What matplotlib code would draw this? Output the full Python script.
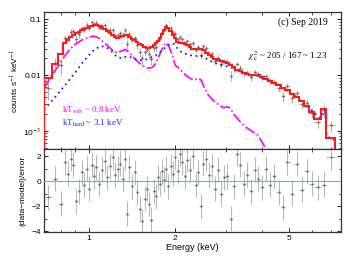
import numpy as np
import matplotlib
matplotlib.use('Agg')
import matplotlib.pyplot as plt
from matplotlib.ticker import FixedLocator, NullFormatter

# spectral bins (keV)
edges = [0.700, 0.745, 0.785, 0.815, 0.835, 0.855, 0.875, 0.895, 0.915, 0.935,
         0.955, 0.975, 0.995, 1.015, 1.035, 1.055, 1.075, 1.100, 1.125, 1.150,
         1.175, 1.200, 1.225, 1.250, 1.275, 1.300, 1.325, 1.350, 1.375, 1.400,
         1.430, 1.460, 1.490, 1.520, 1.550, 1.580, 1.610, 1.640, 1.670, 1.700,
         1.730, 1.760, 1.790, 1.820, 1.850, 1.880, 1.910, 1.945, 1.980, 2.020,
         2.060, 2.100, 2.140, 2.180, 2.230, 2.280, 2.330, 2.380, 2.430, 2.480,
         2.540, 2.600, 2.660, 2.720, 2.790, 2.860, 2.930, 3.000, 3.080, 3.160,
         3.240, 3.330, 3.420, 3.520, 3.620, 3.730, 3.840, 3.960, 4.080, 4.210,
         4.350, 4.500, 4.660, 4.830, 5.010, 5.200, 5.400, 5.620, 5.850, 6.100,
         6.450, 6.710, 7.200]

# total model per bin (counts/s/keV)
model = [0.0088, 0.0160, 0.0235, 0.037, 0.043, 0.048, 0.053, 0.057, 0.060, 0.064,
         0.067, 0.071, 0.074, 0.077, 0.079, 0.078, 0.075, 0.070, 0.066, 0.061,
         0.057, 0.052, 0.048, 0.046, 0.048, 0.051, 0.053, 0.052, 0.049, 0.045,
         0.042, 0.039, 0.036, 0.034, 0.032, 0.031, 0.031, 0.032, 0.034, 0.037,
         0.041, 0.047, 0.055, 0.065, 0.073, 0.070, 0.062, 0.053, 0.046, 0.040,
         0.038, 0.037, 0.036, 0.034, 0.032, 0.030, 0.029, 0.029, 0.030, 0.028,
         0.025, 0.023, 0.021, 0.0196, 0.0186, 0.0177, 0.0170, 0.0165, 0.0153, 0.0138,
         0.0126, 0.0117, 0.0110, 0.0105, 0.0102, 0.0101, 0.0102, 0.0094, 0.0086, 0.0080,
         0.0072, 0.0066, 0.0059, 0.0053, 0.0046, 0.0040, 0.0034, 0.0028, 0.0022, 0.0016,
         0.0025, 0.00075]

# (data-model)/error per bin
resid = [-1.3, 0.2, -1.8, 1.5, 0.6, 1.8, 1.3, -1.6, -0.8, 0.7,
         -0.3, 1.0, -0.6, 1.3, 0.4, 1.1, -0.2, 0.9, 1.6, 0.3,
         1.2, 1.9, 0.5, 1.0, 1.4, 0.2, 1.8, -2.6, 1.1, -0.4,
         0.7, -0.9, -2.2, -3.2, -1.4, -0.6, -1.8, -3.1, -0.8, -1.2,
         0.3, -0.2, 0.8, 0.1, 1.0, -0.4, 1.2, 0.6, 1.9, 0.8,
         2.2, 1.5, 0.4, 1.7, 0.9, 2.0, -0.3, 0.7, -2.0, 1.4,
         1.8, 0.5, 1.2, -0.6, 0.9, -1.0, 0.3, 0.4, -3.0, -0.4,
         2.2, 1.3, -0.2, 0.5, -0.8, 0.9, 0.2, -0.5, 1.0, -0.3,
         0.4, -0.9, -2.1, 1.5, -1.0, 1.4, -0.7, 0.8, -0.2, -0.5,
         -0.3, 1.9]

# fractional error of each data bin
rel_err = [0.26, 0.22, 0.20, 0.16, 0.15, 0.14, 0.14, 0.13, 0.13, 0.12,
           0.12, 0.12, 0.11, 0.11, 0.11, 0.11, 0.11, 0.11, 0.11, 0.12,
           0.12, 0.12, 0.12, 0.12, 0.12, 0.12, 0.12, 0.12, 0.12, 0.12,
           0.13, 0.13, 0.13, 0.13, 0.13, 0.13, 0.13, 0.13, 0.13, 0.12,
           0.12, 0.11, 0.10, 0.10, 0.09, 0.09, 0.10, 0.11, 0.11, 0.12,
           0.12, 0.12, 0.12, 0.12, 0.12, 0.12, 0.12, 0.12, 0.12, 0.12,
           0.12, 0.12, 0.12, 0.12, 0.12, 0.12, 0.12, 0.12, 0.12, 0.12,
           0.12, 0.12, 0.12, 0.12, 0.12, 0.12, 0.12, 0.12, 0.12, 0.13,
           0.13, 0.13, 0.14, 0.14, 0.15, 0.15, 0.16, 0.17, 0.19, 0.20,
           0.20, 0.35]

# soft component (kT ~ 0.8 keV)
soft_e = [0.70, 0.74, 0.78, 0.82, 0.86, 0.90, 0.95, 1.00, 1.04, 1.08,
          1.12, 1.17, 1.22, 1.26, 1.30, 1.34, 1.38, 1.43, 1.49, 1.55,
          1.61, 1.67, 1.72, 1.77, 1.82, 1.86, 1.90, 1.95, 2.00, 2.06,
          2.13, 2.20, 2.28, 2.36, 2.42, 2.47, 2.53, 2.60, 2.70, 2.82,
          2.94, 3.05, 3.12, 3.20, 3.35, 3.50, 3.70, 3.85, 3.95, 4.10, 4.25]
soft_v = [0.0058, 0.0095, 0.014, 0.021, 0.029, 0.036, 0.043, 0.048, 0.050, 0.047,
          0.040, 0.033, 0.027, 0.025, 0.027, 0.029, 0.026, 0.021, 0.017, 0.0145,
          0.0133, 0.0138, 0.017, 0.024, 0.033, 0.038, 0.033, 0.024, 0.015, 0.0135,
          0.0112, 0.0095, 0.0085, 0.0083, 0.0088, 0.0080, 0.0058, 0.0045, 0.0036, 0.0030,
          0.0026, 0.0027, 0.0025, 0.0020, 0.0015, 0.0012, 0.00098, 0.00088, 0.00072, 0.00052, 0.00038]

# hard component (kT ~ 3.1 keV)
hard_e = [0.70, 0.75, 0.80, 0.85, 0.90, 0.95, 1.00, 1.05, 1.10, 1.15,
          1.20, 1.25, 1.30, 1.35, 1.40, 1.46, 1.52, 1.58, 1.64, 1.70,
          1.76, 1.82, 1.88, 1.94, 1.99, 2.04, 2.10, 2.18, 2.28, 2.38,
          2.45, 2.52, 2.62, 2.75, 2.90, 3.05, 3.15, 3.30, 3.50, 3.70,
          3.90, 4.05, 4.30, 4.60, 4.90, 5.20, 5.50, 5.80, 6.10, 6.40,
          6.55, 6.65, 6.72, 7.20]
hard_v = [0.0024, 0.0036, 0.0053, 0.0078, 0.0112, 0.0165, 0.0225, 0.029, 0.033, 0.032,
          0.027, 0.0215, 0.020, 0.0215, 0.021, 0.019, 0.0185, 0.019, 0.0205, 0.022,
          0.025, 0.029, 0.034, 0.037, 0.036, 0.030, 0.026, 0.024, 0.0225, 0.022,
          0.0225, 0.021, 0.0185, 0.0165, 0.015, 0.0143, 0.0135, 0.0120, 0.0106, 0.0098,
          0.0097, 0.0089, 0.0077, 0.0064, 0.0052, 0.0043, 0.0034, 0.0027, 0.0021, 0.0017,
          0.0020, 0.0023, 0.0008, 0.00068]

edges = np.array(edges)
model = np.array(model)
resid = np.array(resid)
rel_err = np.array(rel_err)
centers = 0.5 * (edges[:-1] + edges[1:])
halfw = 0.5 * (edges[1:] - edges[:-1])
err = model * rel_err
data = model + resid * err

plt.rcParams['font.family'] = ['Liberation Sans', 'DejaVu Sans']
plt.rcParams['mathtext.fontset'] = 'stix'

fig = plt.figure(figsize=(3.5, 2.63), dpi=100)
ax1 = fig.add_axes([0.126, 0.433, 0.848, 0.521])
ax2 = fig.add_axes([0.126, 0.118, 0.848, 0.315], sharex=ax1)

# top panel
ax1.errorbar(centers, data, xerr=halfw, yerr=err, fmt='o', ms=0.6, color='#666666',
             ecolor='#b0b0b0', elinewidth=0.8, capsize=0, zorder=2)
ax1.plot(soft_e, soft_v, color='#ff00ff', ls='-.', lw=1.2, zorder=3)
ax1.plot(hard_e, hard_v, color='#2020ff', ls=(0, (1, 2)), lw=1.3, zorder=3)
ax1.stairs(model, edges, color='#ff1a1a', lw=1.5, zorder=4)
ax1.set_xscale('log')
ax1.set_yscale('log')
ax1.set_xlim(0.7, 7.55)
ax1.set_ylim(4.7e-4, 0.135)
ax1.yaxis.set_major_locator(FixedLocator([1e-3, 1e-2, 0.1]))
ax1.set_yticklabels(['10$^{-3}$', '0.01', '0.1'])
ax1.set_ylabel('counts s$^{-1}$ keV$^{-1}$', fontsize=6, labelpad=2)
ax1.tick_params(labelbottom=False)

ax1.text(0.955, 0.925, '(c) Sep 2019', transform=ax1.transAxes, ha='right', va='center',
         fontsize=7, family='Liberation Serif')
ax1.text(0.955, 0.68, r'$\chi^2_\nu$ ~ 205 / 167 ~ 1.23', transform=ax1.transAxes,
         ha='right', va='center', fontsize=6.5, family='Liberation Serif')
ax1.text(0.06, 0.285, r'kT$_{\rm soft}$ ~ 0.8 keV', transform=ax1.transAxes, ha='left',
         va='center', fontsize=6.5, family='Liberation Serif', color='#ff00ff')
ax1.text(0.06, 0.19, r'kT$_{\rm hard}$ ~ 3.1 keV', transform=ax1.transAxes, ha='left',
         va='center', fontsize=6.5, family='Liberation Serif', color='#2020ff')

# residual panel
ax2.errorbar(centers, resid, xerr=halfw, yerr=1.0, fmt='o', ms=0.6, color='#666666',
             ecolor='#b8b8b8', elinewidth=0.8, capsize=0, zorder=2)
ax2.axhline(0, color='#44e044', lw=0.8, zorder=3)
ax2.set_ylim(-4.05, 2.55)
ax2.set_yticks([-4, -2, 0, 2])
ax2.set_yticklabels(['\u22124', '\u22122', '0', '2'])
ax2.set_ylabel('(data\u2212model)/error', fontsize=6, labelpad=4)
ax2.set_xlabel('Energy (keV)', fontsize=6.5, labelpad=1)
ax2.xaxis.set_major_locator(FixedLocator([1, 2, 5]))
ax2.xaxis.set_minor_locator(FixedLocator([0.7, 0.8, 0.9, 3, 4, 6, 7]))
ax2.set_xticklabels(['1', '2', '5'])
ax2.xaxis.set_minor_formatter(NullFormatter())
ax2.yaxis.set_minor_locator(FixedLocator([-3, -1, 1]))

for ax in (ax1, ax2):
    ax.tick_params(which='both', direction='in', top=True, right=True, labelsize=6, pad=2)
    ax.tick_params(which='major', length=3, width=0.6)
    ax.tick_params(which='minor', length=1.8, width=0.5)
    for s in ax.spines.values():
        s.set_linewidth(0.9)
        s.set_color('#333333')

fig.savefig('out.png', dpi=100)
